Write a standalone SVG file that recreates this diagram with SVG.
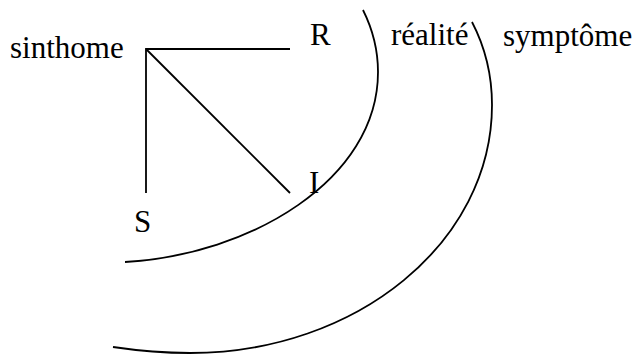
<svg xmlns="http://www.w3.org/2000/svg" width="638" height="354" viewBox="0 0 638 354">
<style>
.t{font-family:'Liberation Serif','Tinos','DejaVu Serif',serif;font-size:31px;fill:#000}
.ln{stroke:#000;stroke-width:1.8;fill:none;stroke-linecap:butt}
</style>
<rect width="638" height="354" fill="#fff"/>
<g font-family="Liberation Serif, serif" font-size="31">
<g id="sinthome"><text class="t" x="10" y="58">sinthome</text></g>
<g id="R"><text class="t" x="310" y="45">R</text></g>
<g id="I"><text class="t" x="309" y="193">I</text></g>
<g id="S"><text class="t" x="134" y="232">S</text></g>
<g id="realite"><text class="t" x="391" y="45">réalité</text></g>
<g id="symptome"><text class="t" x="503" y="46">symptôme</text></g>
</g>
<g id="connectors">
<line class="ln" x1="146" y1="49" x2="290" y2="49"/>
<line class="ln" x1="146" y1="48" x2="146" y2="193"/>
<line class="ln" x1="146" y1="49" x2="290" y2="193"/>
</g>
<g id="arcs">
<path class="ln" d="M363 10 C372 28 378 50 378 72 C378 180 250 255 125 262"/>
<path class="ln" d="M472 22 C484 45 492 75 492 105 C492 242 357 353 190 353 C165 353 140 351 113 347"/>
</g>
</svg>
